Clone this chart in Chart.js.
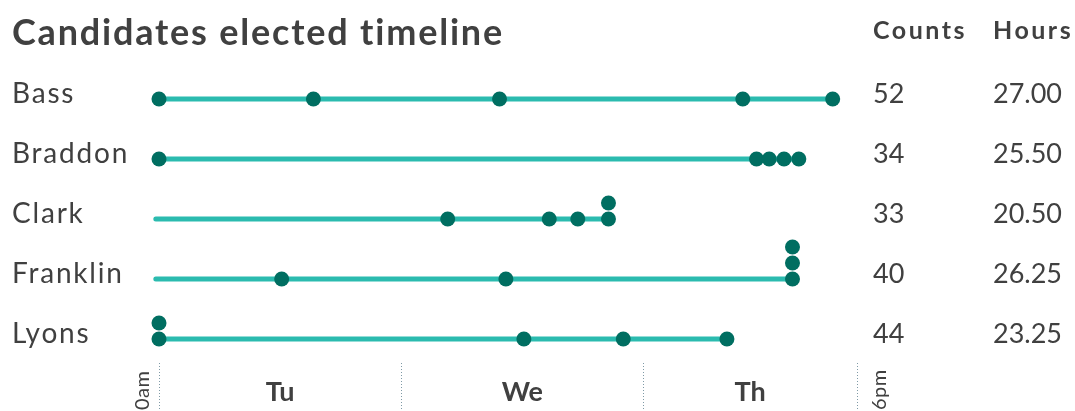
<!DOCTYPE html>
<html>
<head>
<meta charset="utf-8">
<script src="https://cdn.jsdelivr.net/npm/chart.js"></script>
<style>
  html, body { margin: 0; padding: 0; background: #fff; }
  #wrap { position: relative; width: 1075px; height: 411px; }
</style>
</head>
<body>
<div id="wrap"><canvas id="timeline" width="1075" height="411"></canvas></div>
<script>
// rows (electorates) and right-hand columns
const electorates = ['Bass', 'Braddon', 'Clark', 'Franklin', 'Lyons'];
const counts = [52, 34, 33, 40, 44];
const hours = [27.00, 25.50, 20.50, 26.25, 23.25];

// hour on the axis when each candidate was elected (repeats = same moment, stacked)
const bassTimes = [0, 14.6, 32.2, 55.2, 63.7];
const braddonTimes = [0, 56.5, 57.7, 59.1, 60.5];
const clarkTimes = [27.3, 36.9, 39.6, 42.5, 42.5];
const franklinTimes = [11.6, 32.8, 59.9, 59.9, 59.9];
const lyonsTimes = [0, 0, 34.5, 43.9, 53.7];

// x axis
const dayLabels = ['Tu', 'We', 'Th'];
const dayEdges = [0, 22.9, 45.8, 66];
const edgeLabels = ['0am', '6pm'];

const TEXT = '#404040';
const LINE = '#2bbbaf';
const DOT = '#006e61';
const FONT = 'Lato, "Open Sans", sans-serif';
const stackStep = 16 / 60; // one stacked dot, in row units

const allTimes = [bassTimes, braddonTimes, clarkTimes, franklinTimes, lyonsTimes];

// dots, stacking repeats upward
const dotPoints = [];
allTimes.forEach((times, row) => {
  const seen = {};
  times.forEach(t => {
    const level = seen[t] || 0;
    seen[t] = level + 1;
    dotPoints.push({x: t, y: row - level * stackStep});
  });
});

const lineSets = allTimes.map((times, row) => ({
  type: 'line',
  data: [{x: -0.3, y: row}, {x: Math.max(...times), y: row}],
  borderColor: LINE,
  borderWidth: 5,
  borderCapStyle: 'round',
  pointRadius: 0,
  showLine: true,
  clip: false,
  order: 1,
}));

const textPlugin = {
  id: 'textPlugin',
  afterDraw(chart) {
    const ctx = chart.ctx;
    const xs = chart.scales.x;
    const ys = chart.scales.y;
    ctx.save();
    ctx.fillStyle = TEXT;
    ctx.textBaseline = 'alphabetic';

    // title and column heads
    ctx.textAlign = 'left';
    ctx.font = 'bold 36px ' + FONT;
    ctx.letterSpacing = '1.8px';
    ctx.fillText('Candidates elected timeline', 12, 45);
    ctx.font = 'bold 25px ' + FONT;
    ctx.letterSpacing = '2.5px';
    ctx.fillText('Counts', 873, 39);
    ctx.fillText('Hours', 993, 39);

    // row labels and values
    electorates.forEach((name, i) => {
      const y = ys.getPixelForValue(i) + 3.5;
      ctx.font = '28px ' + FONT;
      ctx.letterSpacing = '1.8px';
      ctx.fillText(name, 12, y);
      ctx.font = '27px ' + FONT;
      ctx.letterSpacing = '0px';
      ctx.fillText(String(counts[i]), 873, y);
      ctx.fillText(hours[i].toFixed(2), 993, y);
    });

    // day separators
    ctx.strokeStyle = '#7f9aa6';
    ctx.lineWidth = 1;
    ctx.setLineDash([1, 2]);
    dayEdges.forEach(v => {
      const x = Math.round(xs.getPixelForValue(v)) + 0.5;
      ctx.beginPath();
      ctx.moveTo(x, 363);
      ctx.lineTo(x, 411);
      ctx.stroke();
    });
    ctx.setLineDash([]);

    // day names
    ctx.textAlign = 'center';
    ctx.font = 'bold 27px ' + FONT;
    dayLabels.forEach((d, i) => {
      const x = (xs.getPixelForValue(dayEdges[i]) + xs.getPixelForValue(dayEdges[i + 1])) / 2;
      ctx.fillText(d, x, 401);
    });

    // start / end times, rotated
    ctx.font = '20px ' + FONT;
    ctx.letterSpacing = '0.5px';
    ctx.textAlign = 'left';
    ctx.textBaseline = 'middle';
    const ends = [[dayEdges[0], -16], [dayEdges[dayEdges.length - 1], 23]];
    ends.forEach(([v, off], i) => {
      ctx.save();
      ctx.translate(xs.getPixelForValue(v) + off, 410);
      ctx.rotate(-Math.PI / 2);
      ctx.fillText(edgeLabels[i], 0, 0);
      ctx.restore();
    });
    ctx.restore();
  },
};

new Chart(document.getElementById('timeline'), {
  type: 'scatter',
  data: {
    datasets: [
      {
        data: dotPoints,
        backgroundColor: DOT,
        borderWidth: 0,
        pointRadius: 7.5,
        pointHoverRadius: 7.5,
        clip: false,
        order: 0,
      },
      ...lineSets,
    ],
  },
  options: {
    responsive: false,
    animation: false,
    events: [],
    layout: {
      padding: {left: 159, right: 218, top: 9, bottom: 42},
    },
    plugins: {
      legend: {display: false},
      tooltip: {enabled: false},
    },
    scales: {
      x: {type: 'linear', min: dayEdges[0], max: dayEdges[dayEdges.length - 1], display: false},
      y: {type: 'linear', min: -1.5, max: 4.5, reverse: true, display: false},
    },
  },
  plugins: [textPlugin],
});
</script>
</body>
</html>
